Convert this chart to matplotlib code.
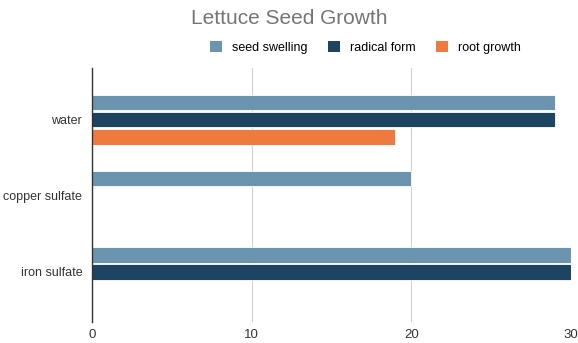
import matplotlib.pyplot as plt
import numpy as np
from matplotlib.patches import Patch

plt.rcParams["font.family"] = ["Liberation Sans", "DejaVu Sans"]

categories = ["water", "copper sulfate", "iron sulfate"]
series_names = ["seed swelling", "radical form", "root growth"]
seed_swelling = [29, 20, 30]
radical_form = [29, 0, 30]
root_growth = [19, 0, 0]

colors = ["#6b95ae", "#1d4461", "#ee7a3f"]

fig = plt.figure(figsize=(5.78, 3.43), dpi=100)
ax = fig.add_axes([0.159, 0.061, 0.829, 0.741])

y = np.arange(len(categories))
bar_h = 0.205
offsets = [-0.225, 0.0, 0.225]
for vals, off, col in zip([seed_swelling, radical_form, root_growth], offsets, colors):
    ax.barh(y + off, vals, height=bar_h, color=col, edgecolor="white",
            linewidth=0.6, zorder=3)

ax.set_xlim(0, 30)
ax.set_ylim(2.66, -0.68)
ax.set_xticks([0, 10, 20, 30])
ax.set_yticks(y)
ax.set_yticklabels(categories)
ax.tick_params(axis="both", length=0, labelsize=9, colors="#333333")
ax.tick_params(axis="x", labelsize=9.5, pad=5)
ax.tick_params(axis="y", pad=7)
ax.grid(axis="x", color="#d0d0d0", linewidth=0.8, zorder=0)
for s in ["top", "right", "bottom"]:
    ax.spines[s].set_visible(False)
ax.spines["left"].set_color("#333333")
ax.spines["left"].set_linewidth(1.0)
ax.spines["left"].set_zorder(4)

fig.text(0.5, 0.945, "Lettuce Seed Growth", ha="center", va="center",
         fontsize=15, color="#757575")

handles = [Patch(facecolor=c, edgecolor="none") for c in colors]
fig.legend(handles, series_names, loc="center", bbox_to_anchor=(0.632, 0.862),
           ncol=3, frameon=False, fontsize=9, handlelength=1.0,
           handleheight=1.0, handletextpad=0.8, columnspacing=1.6)

fig.savefig("out.png", dpi=100)
